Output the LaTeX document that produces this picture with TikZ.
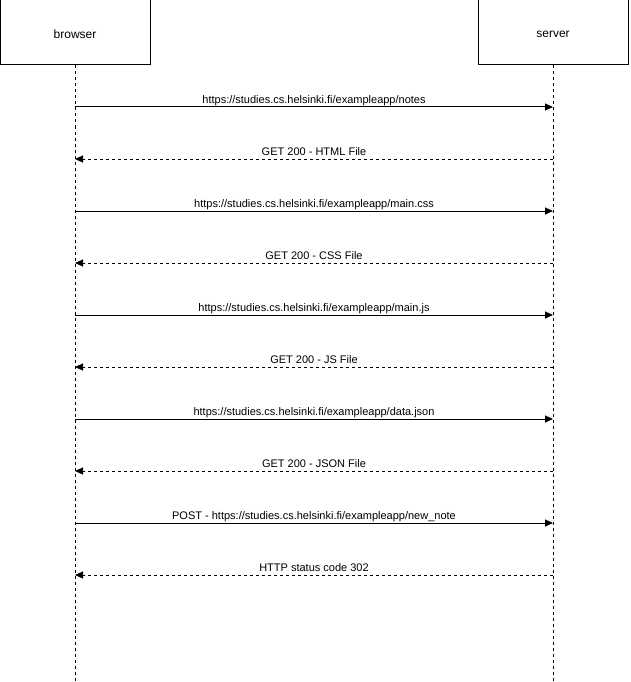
\documentclass[tikz,border=0pt]{standalone}
\usepackage{fontspec}
\setmainfont{Liberation Sans}
\usetikzlibrary{arrows.meta}
\begin{document}
\begin{tikzpicture}[x=1pt,y=-1pt,
  actor/.style={draw,line width=1pt,minimum width=150pt,minimum height=65pt,inner sep=0pt,font=\fontsize{12}{14}\selectfont},
  actorlbl/.style={inner sep=0pt,font=\fontsize{12}{14}\selectfont},
  lifeline/.style={line width=1pt,dash pattern=on 3pt off 3pt},
  msg/.style={line width=1pt,-{Triangle[length=8pt,width=7pt]}},
  reply/.style={line width=1pt,dash pattern=on 3pt off 3pt,-{Triangle[length=8pt,width=7pt]}},
  lbl/.style={font=\fontsize{11}{13}\selectfont,inner sep=0pt,anchor=base}]
\useasboundingbox (0,0) rectangle (630,682);
\node[actor] (browser) at (75,32.5) {};
\node[actor] (server) at (553,32.5) {};
\node[actorlbl] (browserlbl) at (75,34.5) {browser};
\node[actorlbl] (serverlbl) at (553,34.5) {server};
\coordinate (bend) at (75,682);
\coordinate (send) at (553,682);
\draw[lifeline] (browser.south) -- (bend);
\draw[lifeline] (server.south) -- (send);
\foreach \i/\y in {1/107,2/159,3/211,4/263,5/315,6/367,7/419,8/471,9/523,10/575}{
  \coordinate (b\i) at (75,\y);
  \coordinate (s\i) at (553,\y);
}
\draw[msg] (b1) -- (s1) node[lbl,pos=0.5,yshift=4pt] (l1) {https://studies.cs.helsinki.fi/exampleapp/notes};
\draw[reply] (s2) -- (b2) node[lbl,pos=0.5,yshift=4pt] (l2) {GET 200 - HTML File};
\draw[msg] (b3) -- (s3) node[lbl,pos=0.5,yshift=4pt] (l3) {https://studies.cs.helsinki.fi/exampleapp/main.css};
\draw[reply] (s4) -- (b4) node[lbl,pos=0.5,yshift=4pt] (l4) {GET 200 - CSS File};
\draw[msg] (b5) -- (s5) node[lbl,pos=0.5,yshift=4pt] (l5) {https://studies.cs.helsinki.fi/exampleapp/main.js};
\draw[reply] (s6) -- (b6) node[lbl,pos=0.5,yshift=4pt] (l6) {GET 200 - JS File};
\draw[msg] (b7) -- (s7) node[lbl,pos=0.5,yshift=4pt] (l7) {https://studies.cs.helsinki.fi/exampleapp/data.json};
\draw[reply] (s8) -- (b8) node[lbl,pos=0.5,yshift=4pt] (l8) {GET 200 - JSON File};
\draw[msg] (b9) -- (s9) node[lbl,pos=0.5,yshift=4pt] (l9) {POST - https://studies.cs.helsinki.fi/exampleapp/new\_note};
\draw[reply] (s10) -- (b10) node[lbl,pos=0.5,yshift=4pt] (l10) {HTTP status code 302};
\end{tikzpicture}
\end{document}
